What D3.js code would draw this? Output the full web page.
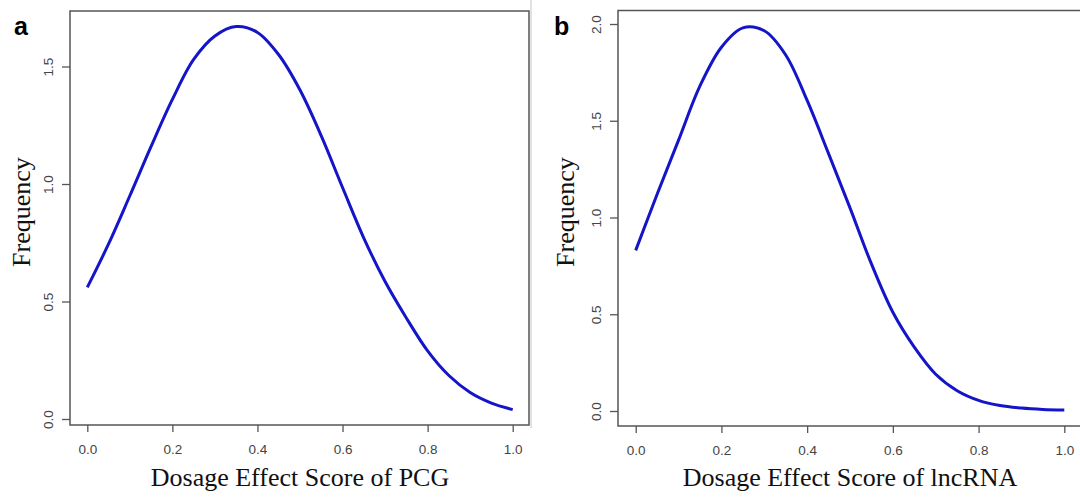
<!DOCTYPE html>
<head>
  <meta charset="utf8">
  <title>Dosage effect score density</title>
  <script src="https://d3js.org/d3.v7.min.js"></script>
  <style>
    body { margin: 0; background: #fff; }
    .tick text { font-family: "Liberation Sans", Arial, sans-serif; font-size: 13.5px; fill: #444; }
    .tick line { stroke: #555; stroke-width: 1.3px; }
    .lab { font-family: "Liberation Serif", "Times New Roman", serif; font-size: 26px; fill: #111; }
    .panel { font-family: "Liberation Sans", Arial, sans-serif; font-size: 25px; font-weight: bold; fill: #000; }
  </style>
</head>
<body>
<script>
  // x positions shared by both curves
  var scoreX = [0, 0.05, 0.1, 0.15, 0.2, 0.25, 0.3, 0.35, 0.4, 0.45, 0.5,
                0.55, 0.6, 0.65, 0.7, 0.75, 0.8, 0.85, 0.9, 0.95, 1.0];
  // densities
  var pcgFreq = [0.56, 0.745, 0.95, 1.16, 1.36, 1.53, 1.63, 1.67, 1.645, 1.55, 1.40,
                 1.205, 0.985, 0.77, 0.585, 0.43, 0.29, 0.185, 0.113, 0.068, 0.04];
  var lncFreq = [0.83, 1.12, 1.40, 1.68, 1.88, 1.98, 1.965, 1.84, 1.605, 1.33, 1.05,
                 0.76, 0.51, 0.33, 0.19, 0.105, 0.055, 0.028, 0.015, 0.008, 0.005];
  var xTicks = [0, 0.2, 0.4, 0.6, 0.8, 1.0];
  var yTicksA = [0, 0.5, 1.0, 1.5];
  var yTicksB = [0, 0.5, 1.0, 1.5, 2.0];

  var svg = d3.select("body").append("svg")
      .attr("width", 1080).attr("height", 498);

  // light separator of the original figure
  svg.append("line").attr("x1", 531).attr("x2", 531).attr("y1", 0).attr("y2", 428)
     .attr("stroke", "#d8d8d8").attr("stroke-width", 1.5);

  function drawPanel(opt) {
    var x = d3.scaleLinear().domain([0, 1]).range(opt.xr),
        y = d3.scaleLinear().domain([0, opt.yref]).range(opt.yr);
    var g = svg.append("g");

    // frame
    g.append("rect")
     .attr("x", opt.box[0]).attr("y", opt.box[1])
     .attr("width", opt.box[2] - opt.box[0]).attr("height", opt.box[3] - opt.box[1])
     .attr("fill", "none").attr("stroke", "#555").attr("stroke-width", 1.5);

    var ax = g.append("g")
     .attr("transform", "translate(0," + opt.box[3] + ")")
     .call(d3.axisBottom(x).tickValues(xTicks).tickFormat(d3.format(".1f"))
            .tickSize(7).tickPadding(12));
    ax.select(".domain").remove();

    var ay = g.append("g")
     .attr("transform", "translate(" + opt.box[0] + ",0)")
     .call(d3.axisLeft(y).tickValues(opt.yTicks).tickFormat(d3.format(".1f"))
            .tickSize(8));
    ay.select(".domain").remove();
    ay.selectAll(".tick text")
      .attr("x", 0).attr("dx", 0).attr("dy", 0)
      .attr("text-anchor", "middle")
      .attr("transform", "translate(" + (opt.tickLabX - opt.box[0] + 5) + ",0) rotate(-90)");

    var line = d3.line()
      .x(function(d) { return x(d[0]); })
      .y(function(d) { return y(d[1]); })
      .curve(d3.curveCatmullRom);

    g.append("path")
     .datum(d3.zip(scoreX, opt.values))
     .attr("fill", "none")
     .attr("stroke", "#1414c8")
     .attr("stroke-width", 3)
     .attr("d", line);

    g.append("text").attr("class", "lab")
     .attr("x", (opt.xr[0] + opt.xr[1]) / 2).attr("y", 486)
     .attr("text-anchor", "middle").text(opt.xlab);

    g.append("text").attr("class", "lab")
     .attr("text-anchor", "middle")
     .attr("transform", "translate(" + opt.ylabX + ",212) rotate(-90)")
     .text("Frequency");

    g.append("text").attr("class", "panel")
     .attr("x", opt.tag[0]).attr("y", opt.tag[1]).text(opt.tagText);
  }

  drawPanel({
    values: pcgFreq, yTicks: yTicksA, yref: 1.5,
    xr: [87.3, 512.7], yr: [419, 66.5],
    box: [70, 11, 529, 425],
    tickLabX: 48, ylabX: 30,
    xlab: "Dosage Effect Score of PCG",
    tag: [14, 35], tagText: "a"
  });

  drawPanel({
    values: lncFreq, yTicks: yTicksB, yref: 2.0,
    xr: [635.7, 1064.3], yr: [411, 24],
    box: [618, 10.5, 1084, 426],
    tickLabX: 596, ylabX: 574,
    xlab: "Dosage Effect Score of lncRNA",
    tag: [554, 35], tagText: "b"
  });
</script>
</body>
